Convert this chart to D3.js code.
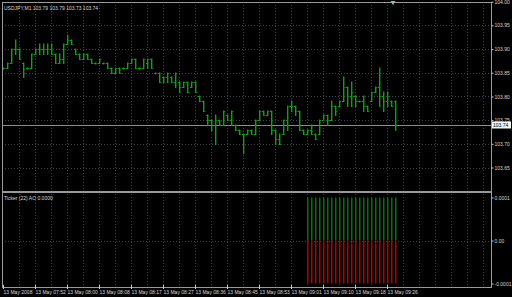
<!DOCTYPE html>
<html>
<head>
<meta charset="utf-8">
<script src="https://cdn.jsdelivr.net/npm/d3@7"></script>
<style>
  html, body { margin: 0; padding: 0; background: #000; }
  svg { display: block; }
  text { font-family: "Liberation Sans", Arial, sans-serif; font-size: 5px; fill: #d8d8d8; }
</style>
</head>
<body>
<div id="chart"></div>
<script>
// USDJPY M1 bars, 13 May 2008
const opens = [
  103.86, 103.86, 103.87, 103.90, 103.90, 103.87, 103.86, 103.86, 103.89, 103.90,
  103.90, 103.90, 103.90, 103.89, 103.87, 103.88, 103.91, 103.92, 103.90, 103.89,
  103.88, 103.89, 103.88, 103.87, 103.87, 103.87, 103.87, 103.86, 103.85, 103.86,
  103.86, 103.86, 103.87, 103.88, 103.86, 103.86, 103.87, 103.88, 103.85, 103.85,
  103.84, 103.84, 103.84, 103.83, 103.83, 103.82, 103.83, 103.82, 103.83, 103.80,
  103.79, 103.76, 103.75, 103.74, 103.75, 103.74, 103.76, 103.75, 103.74, 103.73,
  103.72, 103.72, 103.73, 103.72, 103.75, 103.77, 103.76, 103.77, 103.73, 103.71,
  103.72, 103.75, 103.78, 103.78, 103.77, 103.73, 103.72, 103.73, 103.72, 103.72,
  103.75, 103.76, 103.75, 103.78, 103.78, 103.79, 103.82, 103.80, 103.80, 103.79,
  103.79, 103.78, 103.79, 103.81, 103.82, 103.80, 103.79, 103.79, 103.79
];
const highs = [
  103.86, 103.87, 103.90, 103.92, 103.90, 103.87, 103.86, 103.89, 103.90, 103.91,
  103.91, 103.91, 103.91, 103.89, 103.89, 103.91, 103.93, 103.92, 103.90, 103.89,
  103.89, 103.89, 103.88, 103.87, 103.88, 103.87, 103.87, 103.86, 103.86, 103.86,
  103.86, 103.87, 103.88, 103.88, 103.86, 103.88, 103.88, 103.88, 103.85, 103.85,
  103.84, 103.85, 103.84, 103.85, 103.83, 103.83, 103.83, 103.83, 103.83, 103.80,
  103.79, 103.76, 103.75, 103.76, 103.75, 103.77, 103.76, 103.77, 103.74, 103.73,
  103.72, 103.73, 103.73, 103.75, 103.77, 103.77, 103.77, 103.77, 103.73, 103.72,
  103.75, 103.78, 103.79, 103.78, 103.77, 103.73, 103.73, 103.74, 103.72, 103.75,
  103.76, 103.76, 103.79, 103.78, 103.79, 103.84, 103.82, 103.83, 103.80, 103.79,
  103.80, 103.78, 103.81, 103.82, 103.86, 103.81, 103.81, 103.79, 103.79
];
const lows = [
  103.86, 103.86, 103.87, 103.89, 103.88, 103.84, 103.86, 103.86, 103.89, 103.89,
  103.89, 103.89, 103.89, 103.87, 103.87, 103.87, 103.91, 103.91, 103.89, 103.88,
  103.88, 103.88, 103.87, 103.87, 103.87, 103.87, 103.86, 103.85, 103.85, 103.85,
  103.86, 103.86, 103.87, 103.86, 103.86, 103.86, 103.86, 103.86, 103.85, 103.83,
  103.83, 103.83, 103.83, 103.82, 103.81, 103.82, 103.81, 103.82, 103.81, 103.79,
  103.77, 103.74, 103.73, 103.70, 103.74, 103.74, 103.75, 103.74, 103.73, 103.72,
  103.68, 103.72, 103.72, 103.72, 103.75, 103.76, 103.76, 103.72, 103.70, 103.70,
  103.72, 103.73, 103.77, 103.76, 103.73, 103.72, 103.72, 103.72, 103.71, 103.72,
  103.75, 103.74, 103.75, 103.76, 103.78, 103.79, 103.78, 103.78, 103.78, 103.79,
  103.77, 103.77, 103.79, 103.81, 103.78, 103.77, 103.78, 103.78, 103.73
];
const closes = [
  103.86, 103.87, 103.90, 103.90, 103.88, 103.85, 103.86, 103.89, 103.90, 103.90,
  103.90, 103.90, 103.89, 103.87, 103.88, 103.91, 103.92, 103.91, 103.89, 103.88,
  103.89, 103.88, 103.87, 103.87, 103.88, 103.87, 103.86, 103.85, 103.86, 103.85,
  103.86, 103.87, 103.88, 103.86, 103.86, 103.88, 103.88, 103.86, 103.85, 103.83,
  103.84, 103.85, 103.83, 103.85, 103.82, 103.83, 103.81, 103.83, 103.81, 103.79,
  103.77, 103.75, 103.74, 103.75, 103.74, 103.77, 103.75, 103.77, 103.73, 103.72,
  103.72, 103.73, 103.72, 103.75, 103.77, 103.76, 103.77, 103.73, 103.71, 103.70,
  103.75, 103.78, 103.78, 103.77, 103.73, 103.72, 103.73, 103.72, 103.71, 103.75,
  103.76, 103.75, 103.78, 103.77, 103.79, 103.82, 103.80, 103.81, 103.79, 103.79,
  103.78, 103.77, 103.81, 103.82, 103.80, 103.79, 103.80, 103.78, 103.74
];

// time axis labels, one every 8 bars
const timeLabels = [
  "13 May 2008", "13 May 07:52", "13 May 08:00", "13 May 08:08", "13 May 08:17",
  "13 May 08:27", "13 May 08:36", "13 May 08:45", "13 May 08:53", "13 May 09:01",
  "13 May 09:10", "13 May 09:18", "13 May 09:26"
];
const priceTicks = [104.00, 103.95, 103.90, 103.85, 103.80, 103.75, 103.70, 103.65];

// AO histogram on the last 23 bars
const aoStart = 76;
const aoUp = [
  0.0001, 0.0001, 0.0001, 0.0001, 0.0001, 0.0001, 0.0001, 0.0001, 0.0001, 0.0001, 0.0001, 0.0001,
  0.0001, 0.0001, 0.0001, 0.0001, 0.0001, 0.0001, 0.0001, 0.0001, 0.0001, 0.0001, 0.0001
];
const aoDown = [
  -0.0001, -0.0001, -0.0001, -0.0001, -0.0001, -0.0001, -0.0001, -0.0001, -0.0001, -0.0001, -0.0001, -0.0001,
  -0.0001, -0.0001, -0.0001, -0.0001, -0.0001, -0.0001, -0.0001, -0.0001, -0.0001, -0.0001, -0.0001
];
const aoTicks = [0.0001, 0, -0.0001];
const aoTickLabels = ["0.0001", "0.00", "-0.0001"];

const W = 512, H = 297;
const plotLeft = 2, plotRight = 491;
const mainTop = 2, mainBottom = 191;
const indTop = 193, indBottom = 287;
const barColor = "#10a010";
const gridColor = "#3f454b";
const frameColor = "#9a9a9a";

const svg = d3.select('#chart')
  .append('svg')
  .attr('width', W)
  .attr('height', H);

svg.append('rect').attr('width', W).attr('height', H).attr('fill', '#000');

const bars = opens.map((o, i) => ({ i: i, o: o, h: highs[i], l: lows[i], c: closes[i] }));

// 4px per bar, chart space continues past the last bar
const x = d3.scaleLinear().domain([0, 1]).range([3, 7]);
const y = d3.scaleLinear().domain([103.65, 104.00]).range([167.5, 1.7]);
const yAO = d3.scaleLinear().domain([-0.0001, 0.0001]).range([283.5, 197.5]);

const px = v => Math.round(v) + 0.5;

// vertical grid every 4 bars
const gridIdx = d3.range(4, 122, 4);
const grid = svg.append('g').attr('stroke', gridColor).attr('stroke-dasharray', '1,2');
grid.selectAll('line.v')
  .data(gridIdx)
  .join('line')
  .attr('class', 'v')
  .attr('x1', d => px(x(d))).attr('x2', d => px(x(d)))
  .attr('y1', mainTop).attr('y2', indBottom);

grid.selectAll('line.h')
  .data(priceTicks.slice(1))
  .join('line')
  .attr('class', 'h')
  .attr('x1', plotLeft).attr('x2', plotRight)
  .attr('y1', d => px(y(d))).attr('y2', d => px(y(d)));

grid.append('line')
  .attr('x1', plotLeft).attr('x2', plotRight)
  .attr('y1', px(yAO(0))).attr('y2', px(yAO(0)));

// last price line
const last = bars[bars.length - 1];
svg.append('line')
  .attr('x1', plotLeft).attr('x2', plotRight)
  .attr('y1', px(y(last.c))).attr('y2', px(y(last.c)))
  .attr('stroke', '#8c8c8c');

// OHLC bars
const barG = svg.append('g').attr('fill', barColor);
barG.selectAll('rect.hl')
  .data(bars)
  .join('rect')
  .attr('class', 'hl')
  .attr('x', d => x(d.i))
  .attr('width', 1.4)
  .attr('y', d => Math.round(y(d.h)) - 0.5)
  .attr('height', d => Math.max(2, Math.round(y(d.l)) - Math.round(y(d.h)) + 1.5));
barG.selectAll('rect.o')
  .data(bars)
  .join('rect')
  .attr('class', 'o')
  .attr('x', d => x(d.i) - 1)
  .attr('width', 1)
  .attr('y', d => Math.round(y(d.o)))
  .attr('height', 1);
barG.selectAll('rect.c')
  .data(bars)
  .join('rect')
  .attr('class', 'c')
  .attr('x', d => x(d.i) + 1.4)
  .attr('width', 1)
  .attr('y', d => Math.round(y(d.c)))
  .attr('height', 1);

// AO histogram
const ao = svg.append('g');
ao.selectAll('rect.up')
  .data(aoUp)
  .join('rect')
  .attr('class', 'up')
  .attr('fill', '#0c6e0c')
  .attr('x', (d, i) => x(aoStart + i))
  .attr('width', 1.5)
  .attr('y', d => yAO(d))
  .attr('height', d => yAO(0) - yAO(d));
ao.selectAll('rect.dn')
  .data(aoDown)
  .join('rect')
  .attr('class', 'dn')
  .attr('fill', '#b40000')
  .attr('x', (d, i) => x(aoStart + i))
  .attr('width', 1.5)
  .attr('y', yAO(0))
  .attr('height', d => yAO(d) - yAO(0));

// frame
const frame = svg.append('g').attr('stroke', frameColor).attr('fill', 'none');
frame.append('rect')
  .attr('x', plotLeft + 0.5).attr('y', mainTop + 0.5)
  .attr('width', plotRight - plotLeft).attr('height', indBottom - mainTop);
frame.append('line')
  .attr('x1', plotLeft).attr('x2', plotRight)
  .attr('y1', mainBottom + 0.5).attr('y2', mainBottom + 0.5);
frame.append('line')
  .attr('x1', plotLeft).attr('x2', plotRight)
  .attr('y1', indTop - 0.5).attr('y2', indTop - 0.5);

// right price axis
const yAxis = d3.axisRight(y).tickValues(priceTicks).tickSize(2).tickPadding(1)
  .tickFormat(d3.format('.2f'));
const yAxisG = svg.append('g').attr('transform', `translate(${plotRight + 0.5},0)`).call(yAxis);
yAxisG.select('.domain').remove();
yAxisG.selectAll('line').attr('stroke', '#c8c8c8');
yAxisG.selectAll('text').attr('fill', '#d8d8d8').style('font-size', '5px')
  .style('font-family', '"Liberation Sans", Arial, sans-serif');

// last price box
const lastY = y(last.c);
svg.append('rect')
  .attr('x', plotRight + 1).attr('y', Math.round(lastY) - 3.5)
  .attr('width', 19).attr('height', 7)
  .attr('fill', '#f4f4f4');
svg.append('text')
  .attr('x', plotRight + 2).attr('y', lastY + 1.8)
  .style('fill', '#000')
  .text(d3.format('.2f')(last.c));

// AO axis
const aoAxis = d3.axisRight(yAO).tickValues(aoTicks).tickSize(2).tickPadding(1)
  .tickFormat((d, i) => aoTickLabels[i]);
const aoAxisG = svg.append('g').attr('transform', `translate(${plotRight + 0.5},0)`).call(aoAxis);
aoAxisG.select('.domain').remove();
aoAxisG.selectAll('line').attr('stroke', '#c8c8c8');
aoAxisG.selectAll('text').attr('fill', '#d8d8d8').style('font-size', '5px')
  .style('font-family', '"Liberation Sans", Arial, sans-serif');

// time axis
const tg = svg.append('g');
tg.selectAll('line')
  .data(timeLabels)
  .join('line')
  .attr('stroke', '#c8c8c8')
  .attr('x1', (d, i) => px(x(i * 8))).attr('x2', (d, i) => px(x(i * 8)))
  .attr('y1', indBottom - 2).attr('y2', indBottom + 2);
tg.selectAll('text')
  .data(timeLabels)
  .join('text')
  .attr('x', (d, i) => x(i * 8) + 0.5)
  .attr('y', 293.5)
  .text(d => d);

// titles
svg.append('text')
  .attr('x', 4).attr('y', 10)
  .text(`USDJPY,M1  ${d3.format('.2f')(last.o)} ${d3.format('.2f')(last.h)} ${d3.format('.2f')(last.l)} ${d3.format('.2f')(last.c)}`);
svg.append('text')
  .attr('x', 4).attr('y', 200)
  .text('Ticker (22) AO 0.0000');

// chart shift marker
svg.append('path')
  .attr('d', d3.symbol(d3.symbolTriangle, 10)())
  .attr('transform', `translate(${x(97.5)},2.5) rotate(180)`)
  .attr('fill', '#8fb8c8');
</script>
</body>
</html>
